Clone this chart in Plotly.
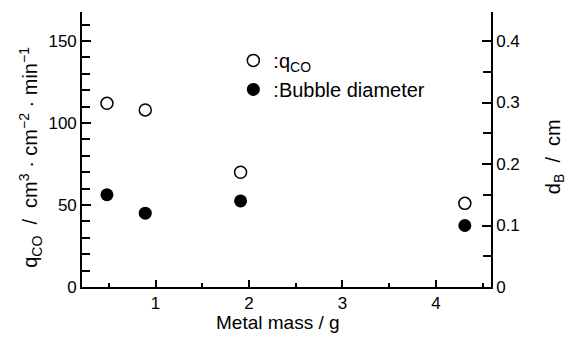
import plotly.graph_objects as go

metal_mass = [0.48, 0.89, 1.91, 4.31]
q_co = [112, 108, 70, 51]
bubble_diameter = [0.150, 0.120, 0.140, 0.100]

FONT = "Liberation Sans, Arial, sans-serif"
X_RANGE = [0.213, 4.59]

fig = go.Figure()
fig.add_trace(go.Scatter(
    x=metal_mass, y=q_co, mode="markers", name=":q<sub>CO</sub>",
    legendgroup="a",
    marker=dict(symbol="circle-open", size=12, color="black", line=dict(width=1.5, color="black")),
    yaxis="y"))
fig.add_trace(go.Scatter(
    x=metal_mass, y=bubble_diameter, mode="markers", name=":Bubble diameter",
    legendgroup="b",
    marker=dict(symbol="circle", size=13, color="black"),
    yaxis="y2"))

axis_common = dict(showline=True, linecolor="black", linewidth=1.6, ticks="inside",
                   tickcolor="black", tickwidth=1.5, showgrid=False, zeroline=False,
                   tickfont=dict(family=FONT, size=17, color="black"))

fig.update_layout(
    width=568, height=340,
    margin=dict(l=82, r=77, t=12, b=53),
    paper_bgcolor="white", plot_bgcolor="white",
    font=dict(family=FONT, color="black"),
    showlegend=True,
    legend=dict(x=0.37, y=0.895, xanchor="left", yanchor="top",
                font=dict(family=FONT, size=20, color="black"),
                bgcolor="rgba(0,0,0,0)", itemwidth=30, tracegroupgap=0),
    xaxis=dict(range=X_RANGE, tick0=0, dtick=1, ticklen=7,
               minor=dict(ticks="inside", dtick=0.5, ticklen=4, tickcolor="black", tickwidth=1.5),
               **axis_common),
    xaxis2=dict(range=X_RANGE, tick0=0, dtick=1, ticklen=7, overlaying="x", side="top",
                anchor="y", showticklabels=False, matches="x",
                minor=dict(ticks="inside", dtick=0.5, ticklen=4, tickcolor="black", tickwidth=1.5),
                **axis_common),
    yaxis=dict(range=[0, 167.7], tick0=0, dtick=50, ticklen=9,
               minor=dict(ticks="inside", dtick=10, ticklen=8, tickcolor="black", tickwidth=1.5),
               **axis_common),
    yaxis2=dict(range=[0, 0.4472], tick0=0, dtick=0.1, ticklen=9, overlaying="y", side="right",
                minor=dict(ticks="inside", dtick=0.05, ticklen=8, tickcolor="black", tickwidth=1.5),
                **axis_common),
    annotations=[
        dict(text="Metal mass / g", xref="paper", yref="paper", x=0.479, y=-0.128,
             xanchor="center", yanchor="middle", showarrow=False,
             font=dict(family=FONT, size=19, color="black")),
        dict(text="q<sub>CO</sub>  /  cm<sup>3</sup> · cm<sup>−2</sup> · min<sup>−1</sup>",
             xref="paper", yref="paper", x=-0.125, y=0.473, textangle=-90,
             xanchor="center", yanchor="middle", showarrow=False,
             font=dict(family=FONT, size=20, color="black")),
        dict(text="d<sub>B</sub>  /  cm", xref="paper", yref="paper", x=1.157, y=0.473,
             textangle=-90, xanchor="center", yanchor="middle", showarrow=False,
             font=dict(family=FONT, size=20, color="black")),
    ],
)

fig.write_html("out.html")
